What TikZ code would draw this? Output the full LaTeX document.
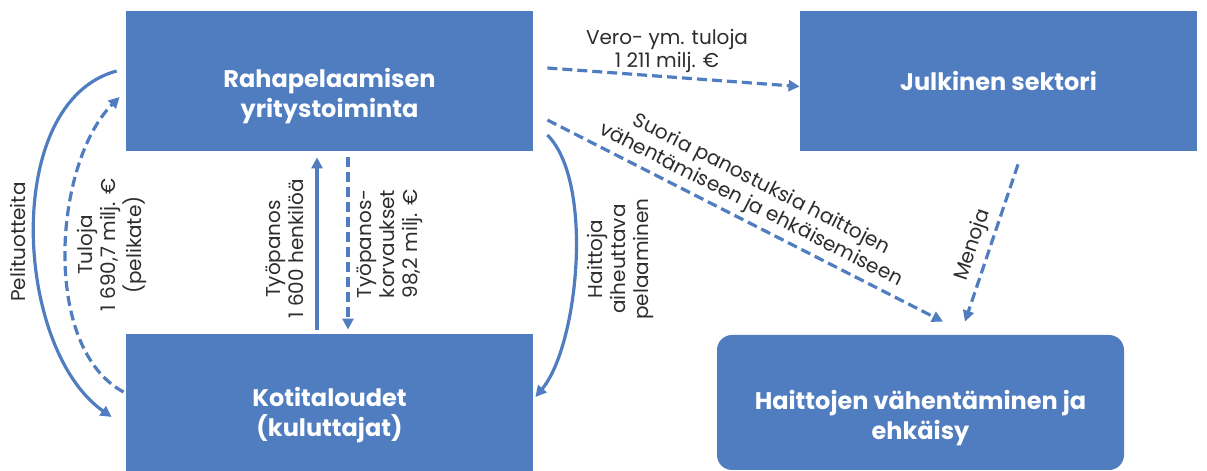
\documentclass[tikz,border=0pt]{standalone}
\usepackage{fontspec}
\setmainfont{Poppins}
\usetikzlibrary{arrows.meta}
\definecolor{boxblue}{RGB}{79,125,191}
\definecolor{txtgray}{RGB}{45,45,45}

\begin{document}
\begin{tikzpicture}[x=0.5pt,y=0.5pt,>={Triangle[length=5.5pt,width=5.5pt]}]
\useasboundingbox (0,0) rectangle (1207,471);
\tikzstyle{box} = [fill=boxblue, text=white, font=\bfseries\fontsize{12}{15}\selectfont, align=center, inner sep=0pt]
\tikzstyle{lbl} = [text=txtgray, font=\fontsize{10}{11.5}\selectfont, align=center, inner sep=0pt]
\tikzstyle{flow} = [draw=boxblue, line width=1.6pt]
\tikzstyle{money} = [flow, dash pattern=on 5pt off 2.5pt]

% boxes
\node [box, minimum width=203.5pt, minimum height=70pt] (a) at (329.5,390) {\rule{0pt}{24.5pt}Rahapelaamisen\\yritystoiminta};
\node [box, minimum width=198.5pt, minimum height=70pt] (b) at (998.5,390) {Julkinen sektori};
\node [box, minimum width=203.5pt, minimum height=68.5pt] (c) at (329.5,68.5) {\rule{0pt}{22.5pt}Kotitaloudet\\(kuluttajat)};
\node [box, rounded corners=7.5pt, minimum width=203.5pt, minimum height=67.5pt] (d) at (920.5,68.5) {\rule{0pt}{25.5pt}Haittojen vähentäminen ja\\ehkäisy};

% flows between households and the gaming business
\draw [flow, ->] ([xshift=-4.5pt,yshift=5pt]a.west) to [out=195,in=145,looseness=0.88] ([xshift=-7pt,yshift=-7.25pt]c.west);
\draw [money, ->] ([xshift=-1pt,yshift=5.25pt]c.west) to [out=152,in=225,looseness=0.81] ([xshift=-3pt,yshift=-8pt]a.west);
\draw [flow, ->, shorten <=2pt, shorten >=3pt] ([xshift=-6.25pt]c.north) -- ([xshift=-6.25pt]a.south);
\draw [money, ->, shorten <=3pt, shorten >=2pt] ([xshift=9.25pt]a.south) -- ([xshift=9.25pt]c.north);
\draw [flow, ->] ([xshift=7pt,yshift=-27pt]a.east) to [out=-45,in=50,looseness=0.65] ([xshift=1pt,yshift=2.75pt]c.east);

% public sector and prevention
\draw [money, ->] ([xshift=7pt,yshift=6.5pt]a.east) -- ([yshift=-2.75pt]b.west);
\draw [money, ->] ([xshift=7pt,yshift=-19.5pt]a.east) -- ([xshift=11.25pt,yshift=6.5pt]d.north);
\draw [money, ->] ([xshift=9.75pt,yshift=-6.5pt]b.south) -- ([xshift=22.25pt,yshift=6.5pt]d.north);

% labels
\node [lbl, rotate=90] (pel) at (18,229) {Pelituotteita};
\node [lbl, rotate=90] (tul) at (112,226) {Tuloja\\1 690,7 milj. €\\(pelikate)};
\node [lbl, rotate=90] (tyo) at (285,222) {Työpanos\\1 600 henkilöä};
\node [lbl, rotate=90] (korv) at (390,227) {Työpanos-\\korvaukset\\98,2 milj. €};
\node [lbl, rotate=90] (hai) at (620,212) {Haittoja\\aiheuttava\\pelaaminen};
\node [lbl] (vero) at (667,420) {Vero- ym. tuloja\\1 211 milj. €};
\node [lbl, rotate=-27] (suo) at (756,276) {Suoria panostuksia haittojen\\vähentämiseen ja ehkäisemiseen};
\node [lbl, rotate=71.6] (men) at (973,226) {Menoja};
\end{tikzpicture}
\end{document}
